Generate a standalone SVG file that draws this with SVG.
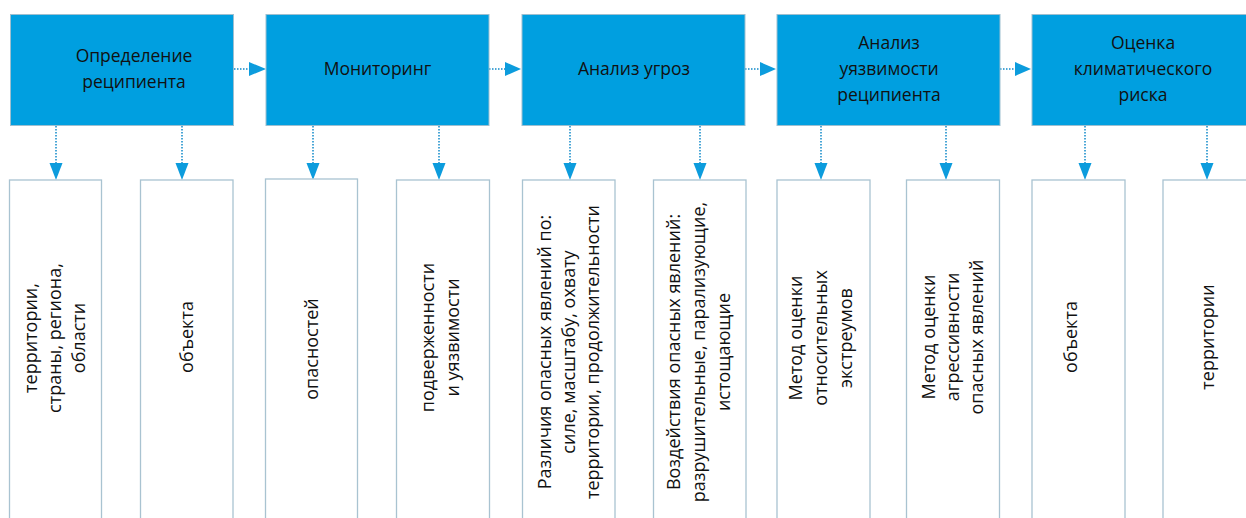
<svg xmlns="http://www.w3.org/2000/svg" width="1246" height="518" viewBox="0 0 1246 518">
<style>
.top{fill:#009FE0;stroke:#9DBFD0;stroke-width:1}
.sub{fill:#FFFFFF;stroke:#A9C3D1;stroke-width:1.3}
.tt{font-family:"Open Sans","Noto Sans","DejaVu Sans",sans-serif;font-size:17.5px;fill:#111;text-anchor:middle}
.vt{font-family:"Open Sans","Noto Sans","DejaVu Sans",sans-serif;font-size:18px;fill:#111;text-anchor:middle}
.dot{stroke:#4AA6D6;stroke-width:2;stroke-dasharray:1.5 1.5;fill:none}
.head{fill:#0C9CDD}
</style>
<rect width="1246" height="518" fill="#FFFFFF"/>
<g id="connectors">
<line class="dot" x1="234" y1="69" x2="250" y2="69"/><polygon class="head" points="249,62 266,69 249,76"/>
<line class="dot" x1="489" y1="69" x2="506" y2="69"/><polygon class="head" points="505,62 521,69 505,76"/>
<line class="dot" x1="745" y1="69" x2="761" y2="69"/><polygon class="head" points="760,62 776,69 760,76"/>
<line class="dot" x1="1000" y1="69" x2="1016" y2="69"/><polygon class="head" points="1015,62 1031,69 1015,76"/>
<line class="dot" x1="56" y1="126" x2="56" y2="164"/><polygon class="head" points="49.5,163 62.5,163 56,180"/>
<line class="dot" x1="182" y1="126" x2="182" y2="164"/><polygon class="head" points="175.5,163 188.5,163 182,180"/>
<line class="dot" x1="313" y1="126" x2="313" y2="164"/><polygon class="head" points="306.5,163 319.5,163 313,180"/>
<line class="dot" x1="439" y1="126" x2="439" y2="164"/><polygon class="head" points="432.5,163 445.5,163 439,180"/>
<line class="dot" x1="570" y1="126" x2="570" y2="164"/><polygon class="head" points="563.5,163 576.5,163 570,180"/>
<line class="dot" x1="700" y1="126" x2="700" y2="164"/><polygon class="head" points="693.5,163 706.5,163 700,180"/>
<line class="dot" x1="821" y1="126" x2="821" y2="164"/><polygon class="head" points="814.5,163 827.5,163 821,180"/>
<line class="dot" x1="946" y1="126" x2="946" y2="164"/><polygon class="head" points="939.5,163 952.5,163 946,180"/>
<line class="dot" x1="1085" y1="126" x2="1085" y2="164"/><polygon class="head" points="1078.5,163 1091.5,163 1085,180"/>
<line class="dot" x1="1207" y1="126" x2="1207" y2="164"/><polygon class="head" points="1200.5,163 1213.5,163 1207,180"/>
</g>
<g id="n1"><rect class="top" x="10.5" y="14.5" width="223" height="111"/><text class="tt" x="134"><tspan x="134" y="62">Определение</tspan><tspan x="134" y="88">реципиента</tspan></text></g>
<g id="n2"><rect class="top" x="266" y="14.5" width="223" height="111"/><text class="tt" x="377.5" y="75">Мониторинг</text></g>
<g id="n3"><rect class="top" x="522" y="14.5" width="223" height="111"/><text class="tt" x="634" y="75">Анализ угроз</text></g>
<g id="n4"><rect class="top" x="777" y="14.5" width="223" height="111"/><text class="tt"><tspan x="889" y="49">Анализ</tspan><tspan x="889" y="75">уязвимости</tspan><tspan x="889" y="101">реципиента</tspan></text></g>
<g id="n5"><rect class="top" x="1032" y="14.5" width="223" height="111"/><text class="tt"><tspan x="1143" y="49">Оценка</tspan><tspan x="1143" y="75">климатического</tspan><tspan x="1143" y="101">риска</tspan></text></g>
<g id="s1"><rect class="sub" x="9.5" y="180" width="92" height="350"/><text class="vt" transform="translate(61,338) rotate(-90)"><tspan x="0" y="-24">территории,</tspan><tspan x="0" y="0">страны, региона,</tspan><tspan x="0" y="24">области</tspan></text></g>
<g id="s2"><rect class="sub" x="140.5" y="180" width="92.5" height="350"/><text class="vt" transform="translate(193,337) rotate(-90)"><tspan x="0" y="0">объекта</tspan></text></g>
<g id="s3"><rect class="sub" x="265.5" y="179" width="92" height="351"/><text class="vt" transform="translate(317.5,349) rotate(-90)"><tspan x="0" y="0">опасностей</tspan></text></g>
<g id="s4"><rect class="sub" x="396.5" y="180" width="93" height="350"/><text class="vt" transform="translate(446.5,337.5) rotate(-90)"><tspan x="0" y="-12.5">подверженности</tspan><tspan x="0" y="12.5">и уязвимости</tspan></text></g>
<g id="s5"><rect class="sub" x="522.5" y="180" width="92.5" height="350"/><text class="vt" transform="translate(574.5,352) rotate(-90)"><tspan x="0" y="-24">Различия опасных явлений по:</tspan><tspan x="0" y="0">силе, масштабу, охвату</tspan><tspan x="0" y="24">территории, продолжительности</tspan></text></g>
<g id="s6"><rect class="sub" x="653.5" y="180" width="92.5" height="350"/><text class="vt" transform="translate(705,352) rotate(-90)"><tspan x="0" y="-25">Воздействия опасных явлений:</tspan><tspan x="0" y="0">разрушительные, парализующие,</tspan><tspan x="0" y="25">истощающие</tspan></text></g>
<g id="s7"><rect class="sub" x="777" y="180" width="93" height="350"/><text class="vt" transform="translate(827,338) rotate(-90)"><tspan x="0" y="-25">Метод оценки</tspan><tspan x="0" y="0">относительных</tspan><tspan x="0" y="25">экстреумов</tspan></text></g>
<g id="s8"><rect class="sub" x="906.5" y="180" width="93" height="350"/><text class="vt" transform="translate(959,337) rotate(-90)"><tspan x="0" y="-24">Метод оценки</tspan><tspan x="0" y="0">агрессивности</tspan><tspan x="0" y="24">опасных явлений</tspan></text></g>
<g id="s9"><rect class="sub" x="1032" y="180" width="93" height="350"/><text class="vt" transform="translate(1077,337) rotate(-90)"><tspan x="0" y="0">объекта</tspan></text></g>
<g id="s10"><rect class="sub" x="1163" y="180" width="93" height="350"/><text class="vt" transform="translate(1214,337) rotate(-90)"><tspan x="0" y="0">территории</tspan></text></g>
</svg>
